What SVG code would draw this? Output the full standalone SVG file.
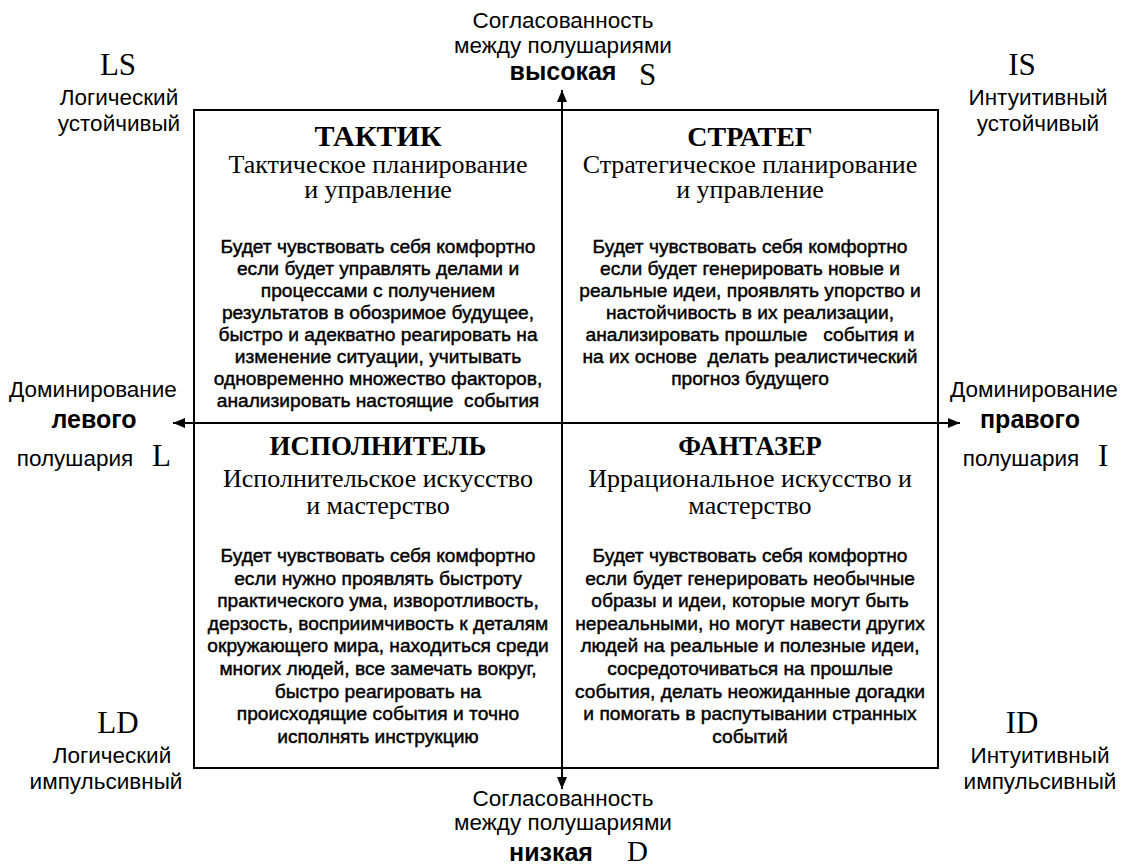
<svg xmlns="http://www.w3.org/2000/svg" width="1121" height="867" viewBox="0 0 1121 867">
<style>
.s{font-family:"Liberation Sans",Arial,sans-serif;fill:#000}
.sans{font-size:22.5px}
.sb{font-size:25px;font-weight:bold}
.body{font-size:19.2px;stroke:#000;stroke-width:0.45}
.t{font-family:"Liberation Serif","Times New Roman",serif;fill:#000}
.ttl{font-size:27px;font-weight:bold}
.sub{font-size:26px}
.big{font-size:31px}
.m{text-anchor:middle}
.ln{stroke:#000;stroke-width:2;fill:none}
</style>
<defs>
<marker id="ah" viewBox="0 0 12 10" refX="12" refY="5" markerWidth="12" markerHeight="10" markerUnits="userSpaceOnUse" orient="auto-start-reverse">
<path d="M0,0 L12,5 L0,10 z" fill="#000"/>
</marker>
</defs>
<rect width="1121" height="867" fill="#fff"/>
<g id="frame">
<rect x="194" y="110" width="744" height="658" class="ln"/>
</g>
<g id="connectors">
<line x1="562" y1="90" x2="562" y2="789" class="ln" marker-start="url(#ah)" marker-end="url(#ah)"/>
<line x1="173" y1="423" x2="960" y2="423" class="ln" marker-start="url(#ah)" marker-end="url(#ah)"/>
</g>
<g id="axis-top">
<text class="s sans m" x="563" y="28">Согласованность</text>
<text class="s sans m" x="563" y="53">между полушариями</text>
<text class="s sb m" x="563" y="80">высокая</text>
<text class="t big" x="639" y="85">S</text>
</g>
<g id="axis-bottom">
<text class="s sans m" x="563" y="806">Согласованность</text>
<text class="s sans m" x="563" y="830">между полушариями</text>
<text class="s sb m" x="551" y="861">низкая</text>
<text class="t big" x="627" y="861" style="font-size:29px">D</text>
</g>
<g id="axis-left">
<text class="s sans m" x="93" y="397">Доминирование</text>
<text class="s sb m" x="94" y="428">левого</text>
<text class="s sans m" x="75" y="466">полушария</text>
<text class="t big" x="152" y="466">L</text>
</g>
<g id="axis-right">
<text class="s sans m" x="1034" y="397">Доминирование</text>
<text class="s sb m" x="1030" y="428">правого</text>
<text class="s sans m" x="1021" y="466">полушария</text>
<text class="t big" x="1098" y="466">I</text>
</g>
<g id="corner-LS">
<text class="t big m" x="118" y="75">LS</text>
<text class="s sans m" x="119" y="105">Логический</text>
<text class="s sans m" x="119" y="131">устойчивый</text>
</g>
<g id="corner-IS">
<text class="t big m" x="1022" y="75">IS</text>
<text class="s sans m" x="1038" y="105">Интуитивный</text>
<text class="s sans m" x="1038" y="131">устойчивый</text>
</g>
<g id="corner-LD">
<text class="t big m" x="118" y="733">LD</text>
<text class="s sans m" x="112" y="763">Логический</text>
<text class="s sans m" x="106" y="789">импульсивный</text>
</g>
<g id="corner-ID">
<text class="t big m" x="1022" y="733">ID</text>
<text class="s sans m" x="1040" y="763">Интуитивный</text>
<text class="s sans m" x="1040" y="789">импульсивный</text>
</g>
<g id="q-taktik">
<text class="t ttl m" x="378" y="146" style="font-size:30px">ТАКТИК</text>
<text class="t sub m" x="378" y="173">Тактическое планирование</text>
<text class="t sub m" x="378" y="198">и управление</text>
<text class="s body m" x="378" y="253">Будет чувствовать себя комфортно</text>
<text class="s body m" x="378" y="275">если будет управлять делами и</text>
<text class="s body m" x="378" y="297">процессами с получением</text>
<text class="s body m" x="378" y="319">результатов в обозримое будущее,</text>
<text class="s body m" x="378" y="341">быстро и адекватно реагировать на</text>
<text class="s body m" x="378" y="363">изменение ситуации, учитывать</text>
<text class="s body m" x="378" y="385">одновременно множество факторов,</text>
<text class="s body m" x="378" y="407" xml:space="preserve">анализировать настоящие  события</text>
</g>
<g id="q-strateg">
<text class="t ttl m" x="750" y="146" style="font-size:28px">СТРАТЕГ</text>
<text class="t sub m" x="750" y="173">Стратегическое планирование</text>
<text class="t sub m" x="750" y="198">и управление</text>
<text class="s body m" x="750" y="253">Будет чувствовать себя комфортно</text>
<text class="s body m" x="750" y="275">если будет генерировать новые и</text>
<text class="s body m" x="750" y="297">реальные идеи, проявлять упорство и</text>
<text class="s body m" x="750" y="319">настойчивость в их реализации,</text>
<text class="s body m" x="750" y="341" xml:space="preserve">анализировать прошлые   события и</text>
<text class="s body m" x="750" y="363" xml:space="preserve">на их основе  делать реалистический</text>
<text class="s body m" x="750" y="385">прогноз будущего</text>
</g>
<g id="q-ispolnitel">
<text class="t ttl m" x="378" y="455">ИСПОЛНИТЕЛЬ</text>
<text class="t sub m" x="378" y="487">Исполнительское искусство</text>
<text class="t sub m" x="378" y="514">и мастерство</text>
<text class="s body m" x="378" y="562">Будет чувствовать себя комфортно</text>
<text class="s body m" x="378" y="584.6">если нужно проявлять быстроту</text>
<text class="s body m" x="378" y="607.2">практического ума, изворотливость,</text>
<text class="s body m" x="378" y="629.8">дерзость, восприимчивость к деталям</text>
<text class="s body m" x="378" y="652.4">окружающего мира, находиться среди</text>
<text class="s body m" x="378" y="675">многих людей, все замечать вокруг,</text>
<text class="s body m" x="378" y="697.6">быстро реагировать на</text>
<text class="s body m" x="378" y="720.2">происходящие события и точно</text>
<text class="s body m" x="378" y="742.8">исполнять инструкцию</text>
</g>
<g id="q-fantazer">
<text class="t ttl m" x="750" y="455" style="font-size:26.5px">ФАНТАЗЕР</text>
<text class="t sub m" x="750" y="487">Иррациональное искусство и</text>
<text class="t sub m" x="750" y="514">мастерство</text>
<text class="s body m" x="750" y="562">Будет чувствовать себя комфортно</text>
<text class="s body m" x="750" y="584.6">если будет генерировать необычные</text>
<text class="s body m" x="750" y="607.2">образы и идеи, которые могут быть</text>
<text class="s body m" x="750" y="629.8">нереальными, но могут навести других</text>
<text class="s body m" x="750" y="652.4">людей на реальные и полезные идеи,</text>
<text class="s body m" x="750" y="675">сосредоточиваться на прошлые</text>
<text class="s body m" x="750" y="697.6">события, делать неожиданные догадки</text>
<text class="s body m" x="750" y="720.2">и помогать в распутывании странных</text>
<text class="s body m" x="750" y="742.8">событий</text>
</g>
</svg>
